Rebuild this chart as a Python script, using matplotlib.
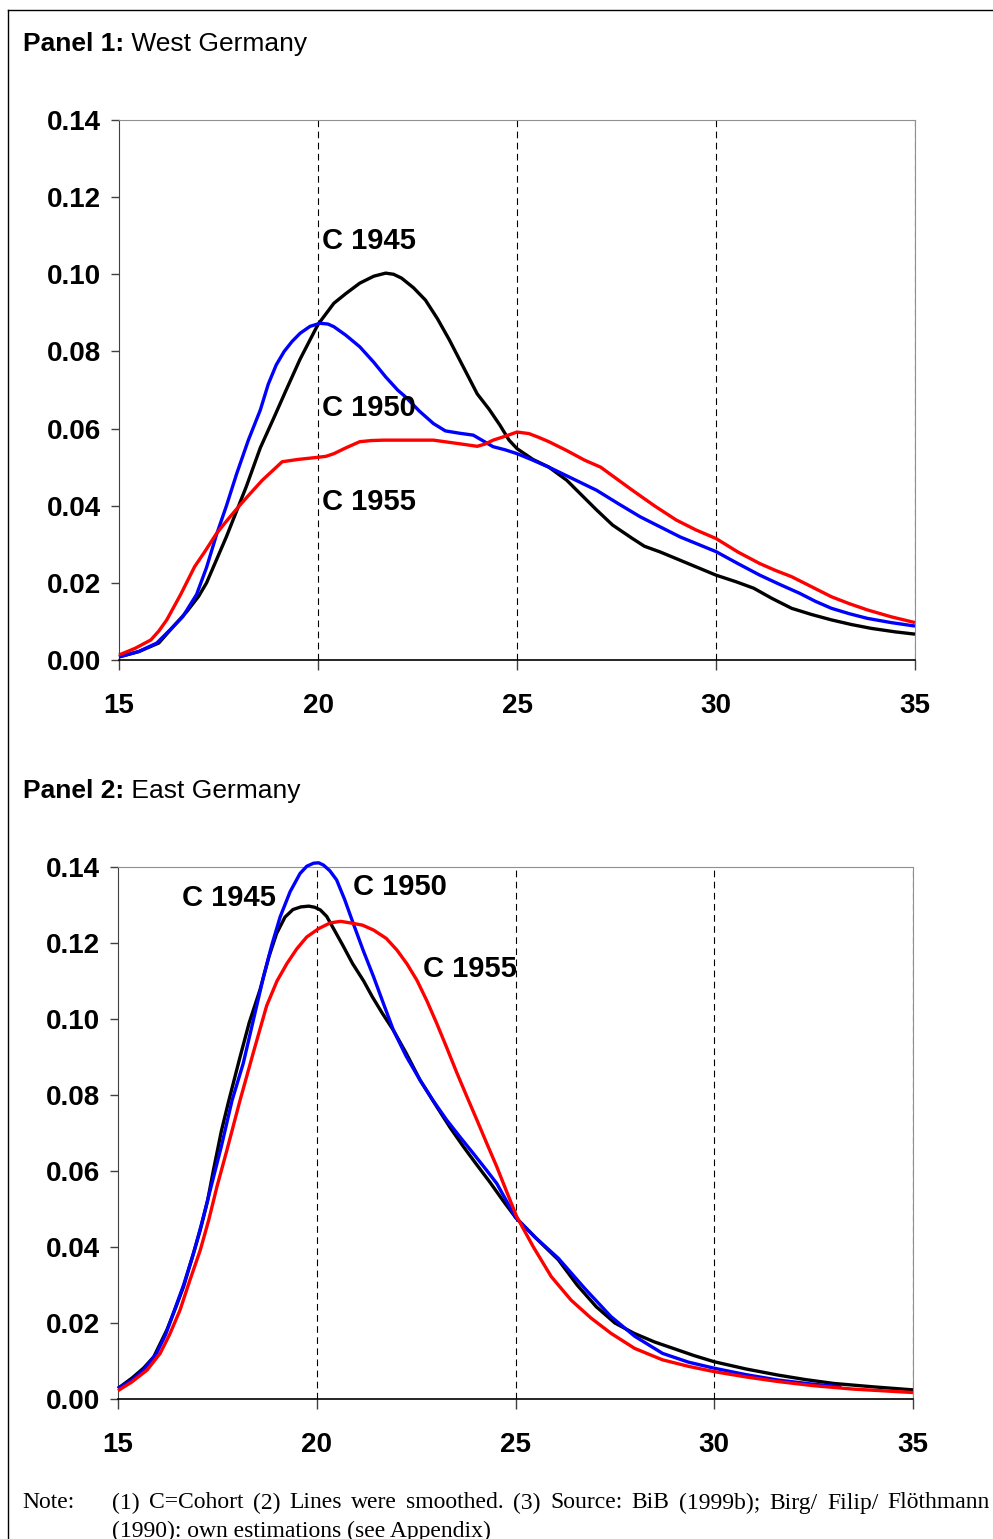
import matplotlib
matplotlib.use("Agg")
import matplotlib.pyplot as plt
from matplotlib.lines import Line2D

plt.rcParams['font.family'] = ['Liberation Sans', 'DejaVu Sans']

# Panel 1: West Germany (age, fertility rate)
west_age_1945 = [15.0, 15.5, 16.0, 16.35, 16.7, 17.0, 17.2, 17.45, 17.7, 17.95, 18.2, 18.55, 18.9, 19.2,
                 19.55, 19.8, 20.0, 20.4, 20.7, 21.05, 21.4, 21.7, 21.9, 22.1, 22.4, 22.7, 23.0, 23.3,
                 23.65, 24.0, 24.3, 24.57, 24.8, 25.0, 25.4, 25.8, 26.25, 26.6, 27.0, 27.4, 27.9, 28.2,
                 28.6, 29.3, 30.0, 30.5, 30.95, 31.4, 31.9, 32.4, 32.9, 33.4, 33.9, 34.5, 35.0]
west_val_1945 = [0.0008, 0.0022, 0.0044, 0.0085, 0.0125, 0.0165, 0.020, 0.026, 0.032, 0.0385, 0.045,
                 0.055, 0.063, 0.070, 0.078, 0.083, 0.087, 0.0925, 0.095, 0.0977, 0.0995, 0.1003,
                 0.1000, 0.099, 0.0965, 0.0933, 0.0885, 0.083, 0.076, 0.069, 0.065, 0.0609, 0.057,
                 0.0548, 0.052, 0.050, 0.0466, 0.043, 0.0389, 0.035, 0.0315, 0.0295, 0.028, 0.025,
                 0.022, 0.0203, 0.0186, 0.016, 0.0134, 0.0118, 0.0104, 0.0092, 0.0082, 0.0073, 0.0067]

west_age_1950 = [15.0, 15.5, 15.95, 16.3, 16.6, 16.95, 17.2, 17.45, 17.7, 17.96, 18.25, 18.55, 18.75,
                 18.95, 19.15, 19.35, 19.55, 19.8, 20.05, 20.25, 20.4, 20.7, 21.05, 21.4, 21.7, 22.0,
                 22.2, 22.55, 22.9, 23.2, 23.55, 23.9, 24.15, 24.4, 24.7, 25.0, 25.4, 25.8, 26.4, 27.0,
                 27.55, 28.1, 28.6, 29.1, 29.55, 30.0, 30.55, 31.1, 31.6, 32.1, 32.5, 32.9, 33.35,
                 33.8, 34.4, 35.0]
west_val_1950 = [0.0008, 0.0022, 0.0044, 0.008, 0.0112, 0.017, 0.024, 0.0325, 0.040, 0.0484, 0.057,
                 0.0648, 0.0715, 0.0765, 0.080, 0.0826, 0.0847, 0.0865, 0.0873, 0.0871, 0.0864,
                 0.0842, 0.0812, 0.0772, 0.0734, 0.070, 0.0682, 0.0645, 0.0613, 0.0594, 0.0588,
                 0.0583, 0.0568, 0.0553, 0.0545, 0.0535, 0.0518, 0.050, 0.047, 0.044, 0.0405, 0.0371,
                 0.0345, 0.0319, 0.030, 0.0281, 0.025, 0.022, 0.0196, 0.0173, 0.0152, 0.0134, 0.012,
                 0.0108, 0.0097, 0.0088]

west_age_1955 = [15.0, 15.4, 15.8, 16.0, 16.2, 16.55, 16.9, 17.15, 17.45, 17.7, 18.0, 18.3, 18.6, 18.85,
                 19.1, 19.5, 19.95, 20.2, 20.4, 20.7, 21.05, 21.35, 21.65, 22.3, 22.9, 23.25, 23.6,
                 24.0, 24.2, 24.4, 24.7, 25.0, 25.3, 25.55, 25.8, 26.25, 26.7, 27.1, 27.5, 27.9, 28.45,
                 29.0, 29.5, 30.0, 30.55, 31.1, 31.5, 31.9, 32.4, 32.9, 33.35, 33.8, 34.4, 35.0]
west_val_1955 = [0.0013, 0.003, 0.0052, 0.0075, 0.0104, 0.017, 0.0242, 0.028, 0.0328, 0.036, 0.0397,
                 0.0432, 0.0466, 0.049, 0.0514, 0.052, 0.0525, 0.0528, 0.0535, 0.055, 0.0566, 0.0569,
                 0.057, 0.057, 0.057, 0.0565, 0.056, 0.0554, 0.056, 0.057, 0.058, 0.0591, 0.0587,
                 0.0577, 0.0566, 0.0543, 0.0518, 0.050, 0.047, 0.044, 0.040, 0.0363, 0.0337, 0.0315,
                 0.028, 0.025, 0.0232, 0.0216, 0.019, 0.0164, 0.0146, 0.013, 0.0112, 0.0097]

# Panel 2: East Germany
east_age_1945 = [15.0, 15.35, 15.64, 15.9, 16.23, 16.45, 16.65, 16.86, 17.07, 17.25, 17.4, 17.6, 17.78,
                 18.07, 18.3, 18.57, 18.8, 18.99, 19.2, 19.4, 19.6, 19.8, 19.95, 20.09, 20.25, 20.4,
                 20.65, 20.9, 21.18, 21.4, 21.65, 21.93, 22.25, 22.6, 23.02, 23.35, 23.69, 24.0, 24.36,
                 24.7, 25.0, 25.5, 26.08, 26.55, 27.03, 27.5, 27.98, 28.5, 29.0, 29.5, 30.0, 30.8,
                 31.6, 32.3, 33.0, 34.0, 35.0]
east_val_1945 = [0.0028, 0.0055, 0.0081, 0.0111, 0.0182, 0.024, 0.0296, 0.037, 0.0445, 0.052, 0.0602,
                 0.0705, 0.0782, 0.090, 0.099, 0.1076, 0.1165, 0.1225, 0.1268, 0.1288, 0.1295, 0.1297,
                 0.1294, 0.1287, 0.127, 0.1242, 0.1195, 0.1146, 0.110, 0.1058, 0.1015, 0.097, 0.091,
                 0.0839, 0.0769, 0.0715, 0.0664, 0.062, 0.0570, 0.052, 0.0478, 0.0425, 0.0366, 0.030,
                 0.0243, 0.020, 0.0173, 0.015, 0.0132, 0.0114, 0.0098, 0.0079, 0.0063, 0.0051, 0.0041,
                 0.0032, 0.0024]

east_age_1950 = [15.0, 15.35, 15.64, 15.97, 16.2, 16.39, 16.65, 16.9, 17.1, 17.32, 17.6, 17.87, 18.15,
                 18.4, 18.66, 18.87, 19.08, 19.33, 19.58, 19.75, 19.92, 20.05, 20.17, 20.33, 20.5,
                 20.7, 20.92, 21.17, 21.43, 21.68, 21.93, 22.25, 22.6, 22.93, 23.27, 23.6, 23.94,
                 24.25, 24.53, 24.78, 25.0, 25.5, 26.08, 26.75, 27.4, 28.0, 28.7, 29.35, 30.0, 30.8,
                 31.6, 32.4, 33.2]
east_val_1950 = [0.0028, 0.005, 0.0076, 0.012, 0.017, 0.0225, 0.030, 0.0383, 0.046, 0.055, 0.0665,
                 0.0786, 0.0883, 0.0995, 0.1111, 0.1195, 0.1269, 0.1335, 0.1383, 0.1402, 0.141,
                 0.1411, 0.1405, 0.139, 0.1366, 0.1315, 0.1251, 0.118, 0.1111, 0.104, 0.097, 0.0902,
                 0.0839, 0.0785, 0.0734, 0.069, 0.0646, 0.0605, 0.0567, 0.052, 0.0478, 0.0425, 0.037,
                 0.029, 0.0217, 0.0165, 0.012, 0.0097, 0.0081, 0.0064, 0.005, 0.004, 0.0032]

east_age_1955 = [15.0, 15.35, 15.73, 16.06, 16.3, 16.56, 16.8, 17.07, 17.28, 17.49, 17.74, 18.07, 18.4,
                 18.74, 19.0, 19.25, 19.5, 19.75, 20.05, 20.34, 20.6, 20.84, 21.15, 21.43, 21.75,
                 22.02, 22.27, 22.52, 22.77, 23.02, 23.28, 23.53, 23.78, 24.03, 24.28, 24.53, 24.78,
                 25.03, 25.45, 25.9, 26.4, 26.9, 27.4, 28.0, 28.7, 29.35, 30.0, 30.8, 31.6, 32.5,
                 33.5, 35.0]
east_val_1955 = [0.0022, 0.0045, 0.0076, 0.012, 0.017, 0.0234, 0.031, 0.0392, 0.047, 0.0559, 0.0655,
                 0.0786, 0.091, 0.1035, 0.110, 0.1146, 0.1185, 0.1216, 0.1238, 0.1253, 0.1257, 0.1253,
                 0.1247, 0.1234, 0.1212, 0.1181, 0.1145, 0.1102, 0.1048, 0.0988, 0.0922, 0.0857,
                 0.0795, 0.0734, 0.0672, 0.0611, 0.0545, 0.048, 0.040, 0.0322, 0.026, 0.0213, 0.0173,
                 0.0133, 0.0103, 0.0086, 0.0072, 0.0058, 0.0046, 0.0035, 0.0026, 0.0017]

x_ticks = [15, 20, 25, 30, 35]
y_ticks = [0.00, 0.02, 0.04, 0.06, 0.08, 0.10, 0.12, 0.14]
cohort_labels = ["C 1945", "C 1950", "C 1955"]
colors = ["black", "#0000ff", "#ff0000"]
note_line1 = "(1) C=Cohort (2) Lines were smoothed. (3) Source: BiB (1999b); Birg/ Filip/ Fl\u00f6thmann"
note_line2 = "(1990): own estimations (see Appendix)"

W, H = 993, 1539
fig = plt.figure(figsize=(W / 100, H / 100), dpi=100)
renderer = fig.canvas.get_renderer()


def style_axes(ax):
    ax.set_xlim(15, 35)
    ax.set_ylim(0, 0.14)
    ax.set_xticks(x_ticks)
    ax.set_yticks(y_ticks)
    ax.set_xticklabels([str(t) for t in x_ticks])
    ax.set_yticklabels(["%.2f" % t for t in y_ticks])
    for lab in ax.get_xticklabels() + ax.get_yticklabels():
        lab.set_fontweight("bold")
        lab.set_fontsize(20)
    ax.tick_params(axis="y", direction="out", length=6, width=1, color="#404040", pad=7)
    ax.tick_params(axis="x", direction="out", length=7, width=1, color="#404040", pad=16.5)
    ax.spines["left"].set_color("#404040")
    ax.spines["bottom"].set_color("black")
    ax.spines["bottom"].set_linewidth(1.2)
    ax.spines["top"].set_color("#909090")
    ax.spines["right"].set_color("#909090")
    for xv in x_ticks[1:]:
        ax.axvline(xv, color="black", lw=0.8, linestyle=(0, (6, 4)), zorder=1)


def label(ax, x, y, s):
    ax.text(x, y, s, fontsize=21, fontweight="bold", va="center", ha="left", zorder=4)


# Panel 1
ax1 = fig.add_axes([119 / W, 1 - 660 / H, 796 / W, 540 / H])
style_axes(ax1)
for ages, vals, c in zip([west_age_1945, west_age_1950, west_age_1955],
                         [west_val_1945, west_val_1950, west_val_1955], colors):
    ax1.plot(ages, vals, color=c, lw=2.4, zorder=3, clip_on=False,
             solid_joinstyle="round", solid_capstyle="butt")
label(ax1, 20.1, 0.1086, cohort_labels[0])
label(ax1, 20.1, 0.0653, cohort_labels[1])
label(ax1, 20.1, 0.0410, cohort_labels[2])

# Panel 2
ax2 = fig.add_axes([118 / W, 1 - 1399 / H, 795 / W, 532 / H])
style_axes(ax2)
for ages, vals, c in zip([east_age_1945, east_age_1950, east_age_1955],
                         [east_val_1945, east_val_1950, east_val_1955], colors):
    ax2.plot(ages, vals, color=c, lw=2.4, zorder=3, clip_on=False,
             solid_joinstyle="round", solid_capstyle="butt")
label(ax2, 16.62, 0.1318, cohort_labels[0])
label(ax2, 20.9, 0.1347, cohort_labels[1])
label(ax2, 22.68, 0.1131, cohort_labels[2])

# panel headings (bold part + normal part)
for ypix, bold, normal in [(44, "Panel 1:", " West Germany"), (791, "Panel 2:", " East Germany")]:
    t = fig.text(23 / W, 1 - ypix / H, bold, fontsize=19, fontweight="bold", va="center", ha="left")
    bb = t.get_window_extent(renderer)
    fig.text(bb.x1 / W, 1 - ypix / H, normal, fontsize=19, va="center", ha="left")

# note, first line justified between x=112 and x=990
serif = ['Liberation Serif', 'DejaVu Serif']
note_fs = 17
fig.text(22 / W, 1 - 1503 / H, "Note:", fontsize=note_fs, family=serif, va="center", ha="left")
words = note_line1.split(" ")
word_texts = [fig.text(0, 1 - 1503 / H, w, fontsize=note_fs, family=serif, va="center", ha="left")
              for w in words]
widths = [t.get_window_extent(renderer).width for t in word_texts]
gap = (990 - 112 - sum(widths)) / (len(words) - 1)
xpos = 112
for t, w in zip(word_texts, widths):
    t.set_x(xpos / W)
    xpos += w + gap
fig.text(112 / W, 1 - 1531 / H, note_line2, fontsize=note_fs, family=serif, va="center", ha="left")

# outer frame (left and top edges)
fig.add_artist(Line2D([7.5 / W, 7.5 / W], [0, 1 - 10 / H], transform=fig.transFigure, color="black", lw=1))
fig.add_artist(Line2D([7.5 / W, 1], [1 - 10 / H, 1 - 10 / H], transform=fig.transFigure, color="black", lw=1))

fig.savefig("out.png", dpi=100)
